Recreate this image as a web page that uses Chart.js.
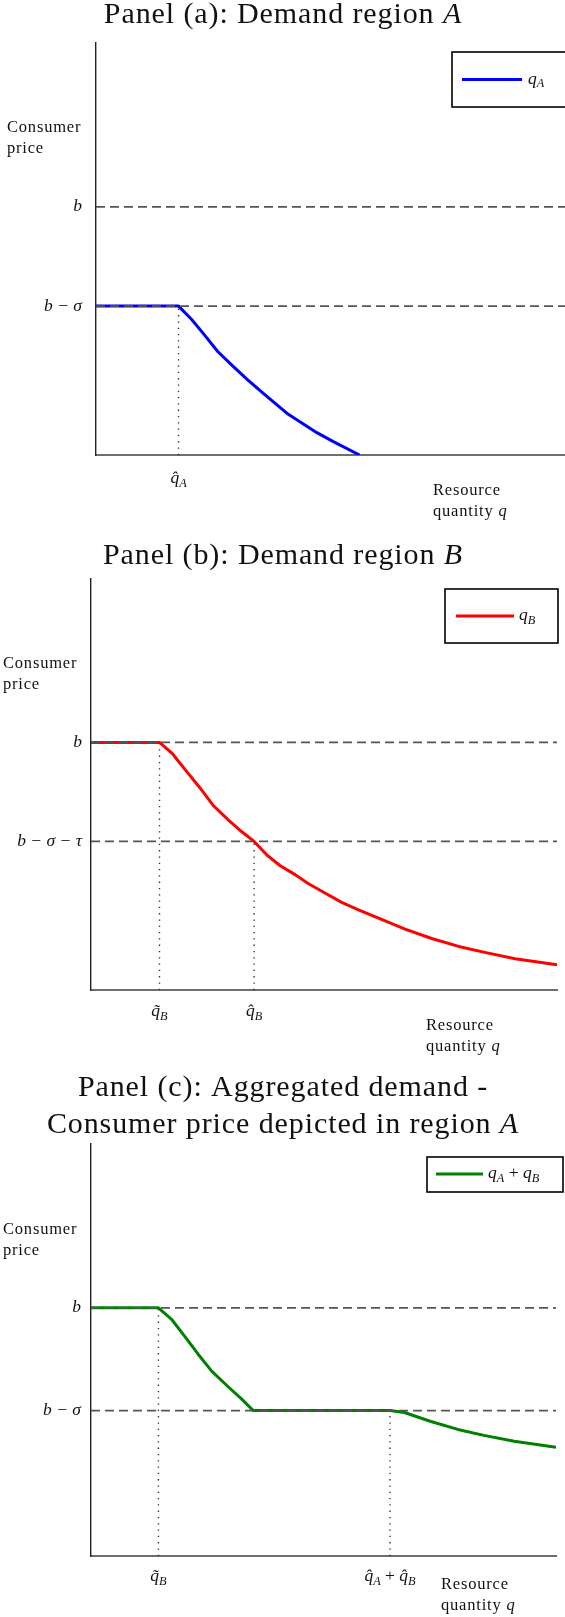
<!DOCTYPE html>
<html>
<head>
<meta charset="utf-8">
<script src="https://cdn.jsdelivr.net/npm/chart.js@4.4.1/dist/chart.umd.min.js"></script>
<style>
  html, body { margin: 0; padding: 0; background: #fff; }
  #wrap { position: relative; width: 565px; height: 1617px; overflow: hidden; background: #fff; }
  #wrap canvas { position: absolute; left: 0; }
</style>
</head>
<body>
<div id="wrap">
  <canvas id="panelA" width="565" height="530" style="top:0px;width:565px;height:530px"></canvas>
  <canvas id="panelB" width="565" height="530" style="top:530px;width:565px;height:530px"></canvas>
  <canvas id="panelC" width="565" height="557" style="top:1060px;width:565px;height:557px"></canvas>
</div>
<script>
// ---------------- data ----------------
const quantityRange = [0, 100];
const priceRange = [0, 8.3];

// Panel (a): demand region A
const qA = [0, 17.6, 20.4, 23.2, 26.0, 29.3, 32.4, 35.3, 38.2, 41.0, 43.8, 47.1, 50.6, 56.2];
const pA = [3, 3, 2.73, 2.41, 2.08, 1.78, 1.51, 1.27, 1.04, 0.82, 0.65, 0.45, 0.27, 0];
const priceTicksA = [5, 3];
const priceLabelsA = ['b', 'b − σ'];
const quantityTicksA = [17.6];
const quantityTickTopsA = [3];
const quantityLabelsA = ['$q\u0302_A$'];

// Panel (b): demand region B
const qB = [0, 14.7, 17.4, 20.2, 23.4, 26.3, 29.5, 32.3, 35.0, 37.7, 40.6, 43.8, 46.6, 50.2, 53.8, 57.4, 61.7, 67.4, 73.1, 78.9, 84.5, 91.0, 100];
const pB = [5, 5, 4.78, 4.45, 4.08, 3.72, 3.43, 3.2, 3.0, 2.73, 2.51, 2.33, 2.15, 1.96, 1.77, 1.62, 1.45, 1.23, 1.04, 0.88, 0.76, 0.63, 0.51];
const priceTicksB = [5, 3];
const priceLabelsB = ['b', 'b − σ − τ'];
const quantityTicksB = [14.7, 35.0];
const quantityTickTopsB = [5, 3];
const quantityLabelsB = ['$q\u0303_B$', '$q\u0302_B$'];

// Panel (c): aggregated demand
const qC = [0, 14.5, 17.4, 20.2, 23.0, 26.0, 29.5, 32.3, 34.9, 64.3, 67.4, 73.1, 78.9, 84.5, 91.0, 100];
const pC = [5, 5, 4.76, 4.42, 4.07, 3.72, 3.41, 3.17, 2.93, 2.93, 2.89, 2.71, 2.55, 2.43, 2.31, 2.19];
const priceTicksC = [5, 2.93];
const priceLabelsC = ['b', 'b − σ'];
const quantityTicksC = [14.5, 64.3];
const quantityTickTopsC = [5, 2.93];
const quantityLabelsC = ['$q\u0303_B$', '$q\u0302_A + q\u0302_B$'];

// text
const titleA = ['Panel (a): Demand region $A$'];
const titleB = ['Panel (b): Demand region $B$'];
const titleC = ['Panel (c): Aggregated demand -', 'Consumer price depicted in region $A$'];
const yCaption = ['Consumer', 'price'];
const xCaption = ['Resource', 'quantity $q$'];
const legendA = '$q_A$';
const legendB = '$q_B$';
const legendC = '$q_A + q_B$';

// ---------------- rich text helper ----------------
const SERIF = '"Liberation Serif", "Times New Roman", serif';
function tokenize(text) {
  const chars = Array.from(text);
  const toks = [];
  let math = false;
  for (let i = 0; i < chars.length; i++) {
    let c = chars[i];
    if (c === '$') { math = !math; continue; }
    let sub = false;
    if (math && c === '_') { sub = true; i++; c = chars[i]; }
    while (i + 1 < chars.length && /[\u0300-\u036f]/.test(chars[i + 1])) { c += chars[++i]; }
    const italic = math && /[A-Za-z\u03b1-\u03c9]/.test(c[0]);
    toks.push({ s: c, italic, sub });
  }
  const runs = [];
  toks.forEach(t => {
    const last = runs[runs.length - 1];
    if (last && last.italic === t.italic && last.sub === t.sub) last.s += t.s;
    else runs.push({ ...t });
  });
  return runs;
}
function fontFor(r, size) {
  return (r.italic ? 'italic ' : '') + (r.sub ? (size * 0.7).toFixed(1) : size) + 'px ' + SERIF;
}
function drawRich(ctx, text, x, y, size, align, ls) {
  const runs = tokenize(text);
  let total = 0;
  runs.forEach(r => {
    ctx.font = fontFor(r, size);
    ctx.letterSpacing = (r.sub ? 0 : ls || 0) + 'px';
    r.w = ctx.measureText(r.s).width;
    total += r.w;
  });
  let cx = align === 'center' ? x - total / 2 : align === 'right' ? x - total : x;
  ctx.textAlign = 'left';
  ctx.textBaseline = 'alphabetic';
  runs.forEach(r => {
    ctx.font = fontFor(r, size);
    ctx.letterSpacing = (r.sub ? 0 : ls || 0) + 'px';
    ctx.fillText(r.s, cx, y + (r.sub ? size * 0.22 : 0));
    cx += r.w;
  });
  ctx.letterSpacing = '0px';
}

// ---------------- decoration plugin ----------------
const decorPlugin = {
  id: 'decor',
  afterDraw(chart, args, o) {
    const ctx = chart.ctx;
    const xs = chart.scales.x;
    ctx.save();
    ctx.fillStyle = '#111';
    // titles
    o.titles.forEach((t, i) => drawRich(ctx, t, 283, o.titleY[i], 30, 'center', 0.9));
    // axis captions
    yCaption.forEach((t, i) => drawRich(ctx, t, o.yCap[0], o.yCap[1] + i * 21, 16.5, 'left', 0.8));
    xCaption.forEach((t, i) => drawRich(ctx, t, o.xCap[0], o.xCap[1] + i * 21, 16.5, 'left', 0.8));
    // quantity tick labels
    o.qTicks.forEach((q, i) => drawRich(ctx, o.qLabels[i], xs.getPixelForValue(q), xs.top + o.tickOff, 17.5, 'center', 0));
    // legend
    const lg = o.legend;
    const ds = chart.data.datasets.find(d => d.isCurve);
    ctx.fillStyle = '#fff';
    ctx.fillRect(lg.box[0], lg.box[1], lg.box[2], lg.box[3]);
    ctx.strokeStyle = '#000';
    ctx.lineWidth = 1.6;
    ctx.strokeRect(lg.box[0], lg.box[1], lg.box[2], lg.box[3]);
    ctx.strokeStyle = ds.borderColor;
    ctx.lineWidth = ds.borderWidth;
    ctx.beginPath();
    ctx.moveTo(lg.line[0], lg.line[2]);
    ctx.lineTo(lg.line[1], lg.line[2]);
    ctx.stroke();
    ctx.fillStyle = '#111';
    drawRich(ctx, lg.text, lg.tx, lg.line[2] + 4, 17.5, 'left', 0);
    ctx.restore();
  }
};

// ---------------- chart builder ----------------
function makePanel(id, P, G) {
  const datasets = [];
  P.priceTicks.forEach(v => datasets.push({
    data: [{ x: quantityRange[0], y: v }, { x: quantityRange[1], y: v }],
    borderColor: '#555555', borderWidth: 1.8, borderDash: [9, 5], pointRadius: 0, order: 0
  }));
  P.qTicks.forEach((q, i) => datasets.push({
    data: [{ x: q, y: 0 }, { x: q, y: P.qTops[i] }],
    borderColor: '#333', borderWidth: 1.4, borderDash: [1.3, 5], pointRadius: 0, order: 1
  }));
  datasets.push({
    isCurve: true,
    data: P.q.map((q, i) => ({ x: q, y: P.p[i] })),
    borderColor: P.color, borderWidth: 3, pointRadius: 0, order: 2,
    borderJoinStyle: 'round'
  });
  const canvas = document.getElementById(id);
  return new Chart(canvas.getContext('2d'), {
    type: 'line',
    data: { datasets },
    plugins: [decorPlugin],
    options: {
      responsive: false,
      animation: false,
      devicePixelRatio: 1,
      events: [],
      layout: { padding: { top: G.top, right: G.right, left: 0, bottom: 0 } },
      elements: { line: { tension: 0 }, point: { radius: 0 } },
      plugins: {
        legend: { display: false },
        tooltip: { enabled: false },
        title: { display: false },
        decor: {
          titles: P.titles, titleY: G.titleY,
          yCap: G.yCap, xCap: G.xCap,
          qTicks: P.qTicks, qLabels: P.qLabels, tickOff: G.tickOff,
          legend: { box: G.legendBox, line: G.legendLine, tx: G.legendTx, text: P.legend }
        }
      },
      scales: {
        x: {
          type: 'linear', min: quantityRange[0], max: quantityRange[1],
          grid: { display: false, drawTicks: false },
          border: { display: true, color: '#6e6e6e', width: 2 },
          ticks: { display: false },
          afterFit: s => { s.height = G.h - G.bottom; }
        },
        y: {
          type: 'linear', min: priceRange[0], max: priceRange[1],
          grid: { display: false, drawTicks: false },
          border: { display: true, color: '#222', width: 1.4 },
          afterBuildTicks: s => { s.ticks = P.priceTicks.map(v => ({ value: v })); },
          ticks: {
            padding: G.tickPad, color: '#111',
            font: { family: SERIF, style: 'italic', size: 17.5 },
            callback: v => P.priceLabels[P.priceTicks.indexOf(v)]
          },
          afterFit: s => { s.width = G.left; }
        }
      }
    }
  });
}

makePanel('panelA',
  { q: qA, p: pA, color: '#0000ff', priceTicks: priceTicksA, priceLabels: priceLabelsA,
    qTicks: quantityTicksA, qTops: quantityTickTopsA, qLabels: quantityLabelsA, titles: titleA, legend: legendA },
  { h: 530, top: 43, bottom: 455, left: 96, right: 0, tickPad: 14, titleY: [23],
    yCap: [7, 132], xCap: [433, 495], tickOff: 28,
    legendBox: [452, 52, 120, 55], legendLine: [462, 522, 79.5], legendTx: 528 });

makePanel('panelB',
  { q: qB, p: pB, color: '#ff0000', priceTicks: priceTicksB, priceLabels: priceLabelsB,
    qTicks: quantityTicksB, qTops: quantityTickTopsB, qLabels: quantityLabelsB, titles: titleB, legend: legendB },
  { h: 530, top: 49, bottom: 460, left: 91, right: 8, tickPad: 9, titleY: [34],
    yCap: [3, 138], xCap: [426, 500], tickOff: 26,
    legendBox: [445, 59, 113, 54], legendLine: [456, 514, 86], legendTx: 519 });

makePanel('panelC',
  { q: qC, p: pC, color: '#008000', priceTicks: priceTicksC, priceLabels: priceLabelsC,
    qTicks: quantityTicksC, qTops: quantityTickTopsC, qLabels: quantityLabelsC, titles: titleC, legend: legendC },
  { h: 557, top: 84, bottom: 496, left: 91, right: 9, tickPad: 10, titleY: [36, 73],
    yCap: [3, 174], xCap: [441, 529], tickOff: 25,
    legendBox: [427, 97, 136, 35], legendLine: [436, 483, 114], legendTx: 488 });
</script>
</body>
</html>
